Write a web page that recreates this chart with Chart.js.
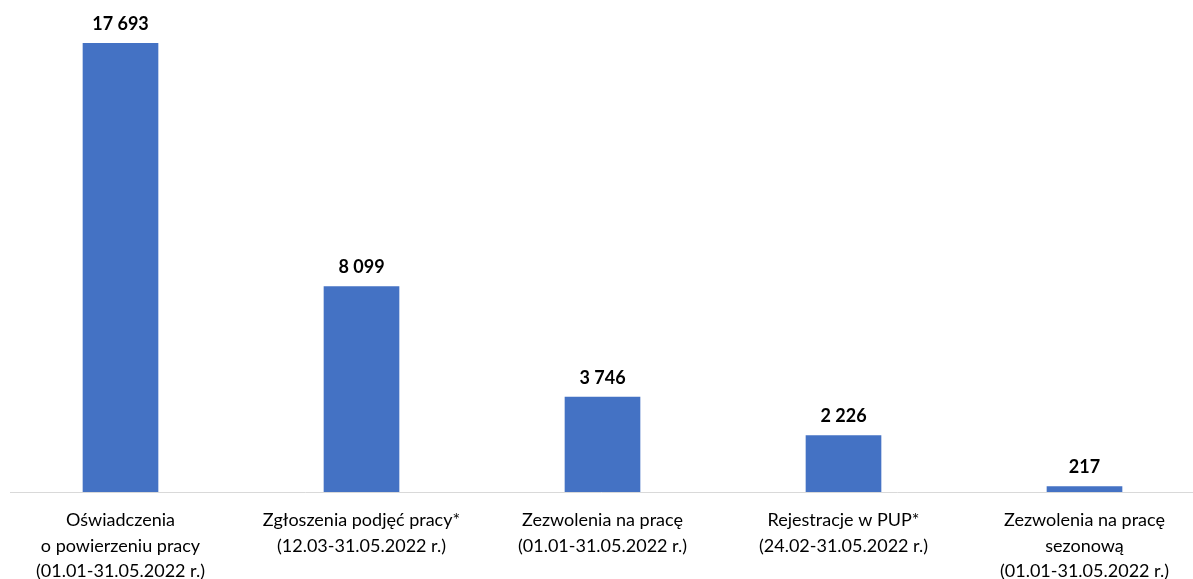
<!DOCTYPE html>
<html lang="pl">
<head>
    <meta charset="UTF-8">
    <title>Cudzoziemcy - dokumenty</title>
    <script src="https://cdn.jsdelivr.net/npm/chart.js"></script>
    <style>
        html, body {
            margin: 0;
            padding: 0;
            background: #fff;
            overflow: hidden;
        }

        .chart-wrap {
            position: relative;
            width: 1205px;
            height: 579px;
        }
    </style>
</head>
<body>
    <div class="chart-wrap">
        <canvas id="myChart"></canvas>
    </div>

    <script>
        const categories = [
            ['Oświadczenia', 'o powierzeniu pracy', '(01.01-31.05.2022 r.)'],
            ['Zgłoszenia podjęć pracy*', '(12.03-31.05.2022 r.)'],
            ['Zezwolenia na pracę', '(01.01-31.05.2022 r.)'],
            ['Rejestracje w PUP*', '(24.02-31.05.2022 r.)'],
            ['Zezwolenia na pracę', 'sezonową', '(01.01-31.05.2022 r.)']
        ];
        const values = [17693, 8099, 3746, 2226, 217];

        const fontFamily = 'Lato, "Open Sans", sans-serif';

        function formatNum(v) {
            return String(v).replace(/\B(?=(\d{3})+(?!\d))/g, ' ');
        }

        // value labels above bars + light axis line
        const extras = {
            id: 'extras',
            beforeDatasetsDraw(chart) {
                const ctx = chart.ctx;
                const y = chart.scales.y.getPixelForValue(0);
                ctx.save();
                ctx.strokeStyle = '#d9d9d9';
                ctx.lineWidth = 1;
                ctx.beginPath();
                ctx.moveTo(10, y + 0.5);
                ctx.lineTo(1193, y + 0.5);
                ctx.stroke();
                ctx.restore();
            },
            afterDatasetsDraw(chart) {
                const ctx = chart.ctx;
                const meta = chart.getDatasetMeta(0);
                ctx.save();
                ctx.fillStyle = '#000';
                ctx.font = 'bold 18px ' + fontFamily;
                ctx.textAlign = 'center';
                ctx.textBaseline = 'bottom';
                meta.data.forEach((bar, i) => {
                    ctx.fillText(formatNum(values[i]), bar.x, bar.y - 10);
                });
                ctx.restore();
            }
        };

        const ctx = document.getElementById('myChart').getContext('2d');
        new Chart(ctx, {
            type: 'bar',
            data: {
                labels: categories,
                datasets: [{
                    data: values,
                    backgroundColor: '#4472c4',
                    barThickness: 75
                }]
            },
            options: {
                responsive: true,
                maintainAspectRatio: false,
                animation: false,
                layout: { padding: 0 },
                plugins: {
                    legend: { display: false },
                    tooltip: { enabled: false }
                },
                scales: {
                    x: {
                        grid: { display: false, drawTicks: false },
                        border: { display: false },
                        ticks: {
                            color: '#000',
                            padding: 16,
                            maxRotation: 0,
                            autoSkip: false,
                            font: { family: fontFamily, size: 18, lineHeight: 1.4 }
                        },
                        afterFit(scale) {
                            scale.height = 87;
                        }
                    },
                    y: {
                        display: false,
                        min: 0,
                        max: 19400
                    }
                }
            },
            plugins: [extras]
        });
    </script>
</body>
</html>
